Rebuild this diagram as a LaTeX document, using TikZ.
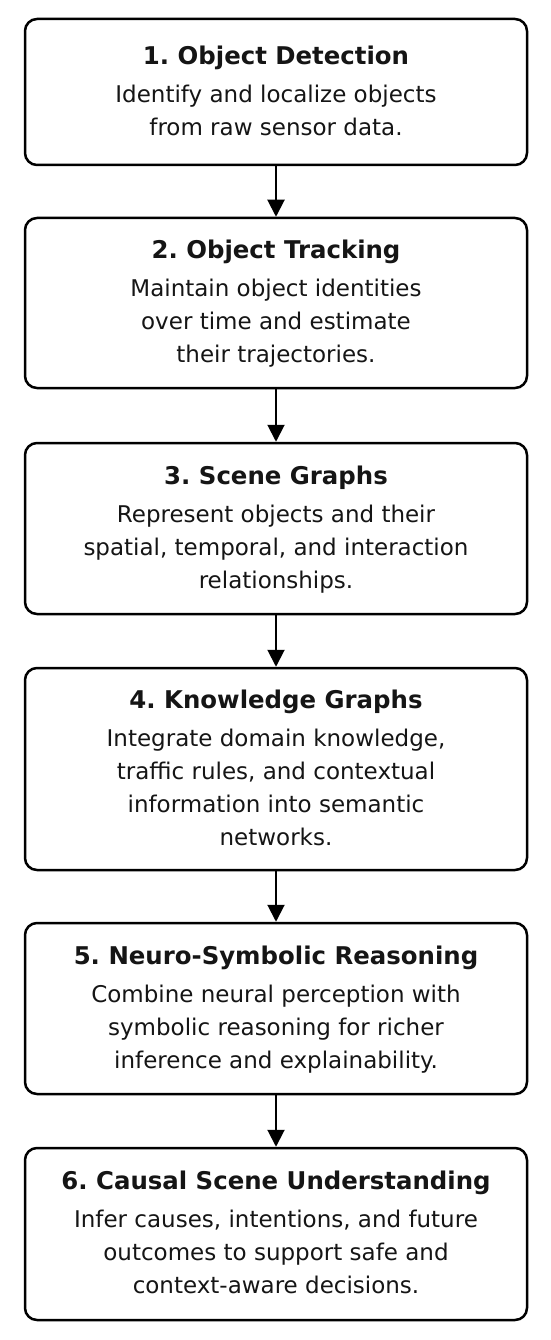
\documentclass[tikz,border=0pt]{standalone}
\usepackage{fontspec}
\setmainfont{DejaVu Sans}
\usetikzlibrary{arrows.meta}
\frenchspacing
\definecolor{ink}{HTML}{151515}
\newcommand{\bodyfont}{\frenchspacing\fontsize{23}{33}\selectfont}
\newcommand{\stagetitle}[1]{{\fontsize{24.4}{33}\selectfont\bfseries\rule{0pt}{24pt}#1}}
\newcommand{\lastline}{\rule[-8.5pt]{0pt}{8.5pt}}
\tikzset{
  stage/.style={draw=black, line width=2.5pt, rounded corners=12pt, minimum width=502pt,
    inner sep=0pt, align=center, font=\bodyfont, text=ink},
  flow/.style={line width=2pt, draw=black, -{Triangle[width=17pt,length=17pt]}}
}
\begin{document}
\begin{tikzpicture}[x=1pt,y=-1pt]
\useasboundingbox[fill=white] (0,0) rectangle (550,1340);
\node[stage, minimum height=146pt] (n1) at (276,92)
  {\stagetitle{1. Object Detection}\\[5pt]Identify and localize objects\\from raw sensor data.\lastline};
\node[stage, minimum height=170pt] (n2) at (276,303)
  {\stagetitle{2. Object Tracking}\\[5pt]Maintain object identities\\over time and estimate\\their trajectories.\lastline};
\node[stage, minimum height=171pt] (n3) at (276,528.5)
  {\stagetitle{3. Scene Graphs}\\[5pt]Represent objects and their\\spatial, temporal, and interaction\\relationships.\lastline};
\node[stage, minimum height=202pt] (n4) at (276,769)
  {\stagetitle{4. Knowledge Graphs}\\[5pt]Integrate domain knowledge,\\traffic rules, and contextual\\information into semantic\\networks.\lastline};
\node[stage, minimum height=171pt] (n5) at (276,1008.5)
  {\stagetitle{5. Neuro-Symbolic Reasoning}\\[5pt]Combine neural perception with\\symbolic reasoning for richer\\inference and explainability.\lastline};
\node[stage, minimum height=172pt] (n6) at (276,1234)
  {\stagetitle{6. Causal Scene Understanding}\\[5pt]Infer causes, intentions, and future\\outcomes to support safe and\\context-aware decisions.\lastline};
\draw[flow] (n1.south) -- (n2.north);
\draw[flow] (n2.south) -- (n3.north);
\draw[flow] (n3.south) -- (n4.north);
\draw[flow] (n4.south) -- (n5.north);
\draw[flow] (n5.south) -- (n6.north);
\end{tikzpicture}
\end{document}
